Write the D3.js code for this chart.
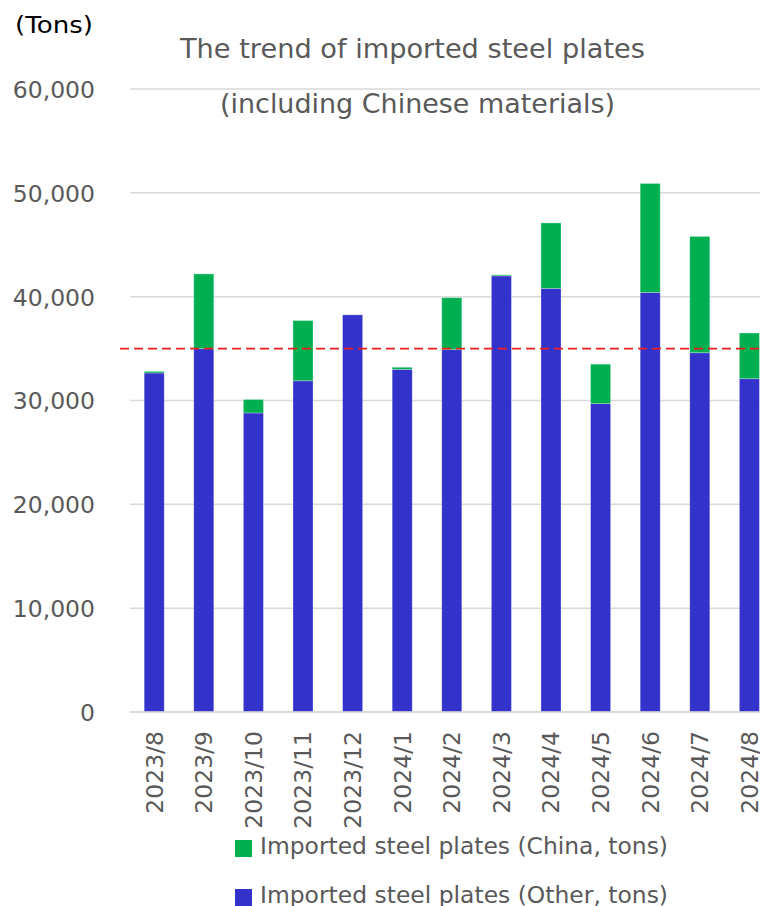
<!DOCTYPE html>
<html>
<head>
<meta charset="utf-8">
<script src="https://cdn.jsdelivr.net/npm/d3@7/dist/d3.min.js"></script>
<style>
  html, body { margin: 0; padding: 0; background: #fff; }
  svg { display: block; }
  text { font-family: "DejaVu Sans", Verdana, sans-serif; fill: #595959; }
</style>
</head>
<body>
<svg id="chart" width="760" height="906"></svg>
<script>
const categories = ["2023/8","2023/9","2023/10","2023/11","2023/12","2024/1","2024/2","2024/3","2024/4","2024/5","2024/6","2024/7","2024/8"];
const otherTons = [32650, 34990, 28800, 31900, 38250, 33000, 34900, 42000, 40800, 29700, 40400, 34600, 32100];
const chinaTons = [150, 7200, 1300, 5800, 0, 200, 5000, 100, 6300, 3800, 10500, 11200, 4400];
const yTicks = [0, 10000, 20000, 30000, 40000, 50000, 60000];
const referenceLine = 35000;
const seriesNames = ["Imported steel plates (China, tons)", "Imported steel plates (Other, tons)"];
const titleLines = ["The trend of imported steel plates", "(including Chinese materials)"];
const unitLabel = "(Tons)";

const colors = { china: "#00b050", other: "#3333cc" };

const svg = d3.select("#chart");
const plot = { left: 129.4, right: 774.2, top: 89, bottom: 712 };

const x = d3.scaleBand().domain(categories).range([plot.left, plot.right]).paddingInner(0.596).paddingOuter(0.298);
const y = d3.scaleLinear().domain([0, 60000]).range([plot.bottom, plot.top]);

// gridlines
svg.append("g").selectAll("line").data(yTicks).join("line")
  .attr("x1", 130).attr("x2", 760)
  .attr("y1", d => y(d)).attr("y2", d => y(d))
  .attr("stroke", "#d9d9d9").attr("stroke-width", 1.5);

// y axis labels
const yAxis = d3.axisLeft(y).tickValues(yTicks).tickSize(0).tickPadding(0).tickFormat(d3.format(","));
const yg = svg.append("g").attr("transform", "translate(95,0)").call(yAxis);
yg.select(".domain").remove();
yg.selectAll("text").style("font-size", "23.5px").attr("fill", "#595959").attr("dy", "0.36em");

// stacked data
const data = categories.map((c, i) => ({ cat: c, other: otherTons[i], china: chinaTons[i] }));
const stack = d3.stack().keys(["other", "china"])(data);

svg.append("g").selectAll("g").data(stack).join("g")
  .attr("fill", d => colors[d.key])
  .selectAll("rect").data(d => d).join("rect")
  .attr("x", d => x(d.data.cat))
  .attr("width", x.bandwidth())
  .attr("y", d => y(d[1]))
  .attr("height", d => Math.max(0, y(d[0]) - y(d[1])))
  .attr("stroke", "rgba(255,255,255,0.35)").attr("stroke-width", 0.8);

// x axis line
svg.append("line").attr("x1", 130).attr("x2", 760).attr("y1", y(0)).attr("y2", y(0))
  .attr("stroke", "#d9d9d9").attr("stroke-width", 1.5);

// reference dashed line
svg.append("line").attr("x1", 120).attr("x2", 760)
  .attr("y1", y(referenceLine)).attr("y2", y(referenceLine))
  .attr("stroke", "#ee1c1c").attr("stroke-width", 1.8).attr("stroke-dasharray", "9,5");

// x labels
const xAxis = d3.axisBottom(x).tickSize(0).tickPadding(0);
const xg = svg.append("g").attr("transform", `translate(0,${y(0)})`).call(xAxis);
xg.select(".domain").remove();
xg.selectAll("text")
  .style("font-size", "23.5px").attr("fill", "#595959")
  .attr("transform", "rotate(-90)")
  .attr("text-anchor", "end")
  .attr("x", -19).attr("y", 0).attr("dy", "0.36em");

// title
svg.append("text").attr("x", 180).attr("y", 58)
  .style("font-size", "27px").attr("textLength", 465).attr("lengthAdjust", "spacingAndGlyphs").text(titleLines[0]);
svg.append("text").attr("x", 220).attr("y", 113)
  .style("font-size", "27px").attr("textLength", 395).attr("lengthAdjust", "spacingAndGlyphs").text(titleLines[1]);

// unit
svg.append("text").attr("x", 15).attr("y", 33).style("font-size", "23px").style("fill", "#000")
  .attr("textLength", 78).attr("lengthAdjust", "spacingAndGlyphs").text(unitLabel);

// legend
const legendKeys = ["china", "other"];
const lg = svg.append("g");
legendKeys.forEach((k, i) => {
  const yy = 840 + i * 49;
  lg.append("rect").attr("x", 235).attr("y", yy).attr("width", 17).attr("height", 17).attr("fill", colors[k]);
  lg.append("text").attr("x", 260).attr("y", yy + 14).style("font-size", "23px")
    .attr("textLength", 408).attr("lengthAdjust", "spacingAndGlyphs").text(seriesNames[i]);
});
</script>
</body>
</html>
